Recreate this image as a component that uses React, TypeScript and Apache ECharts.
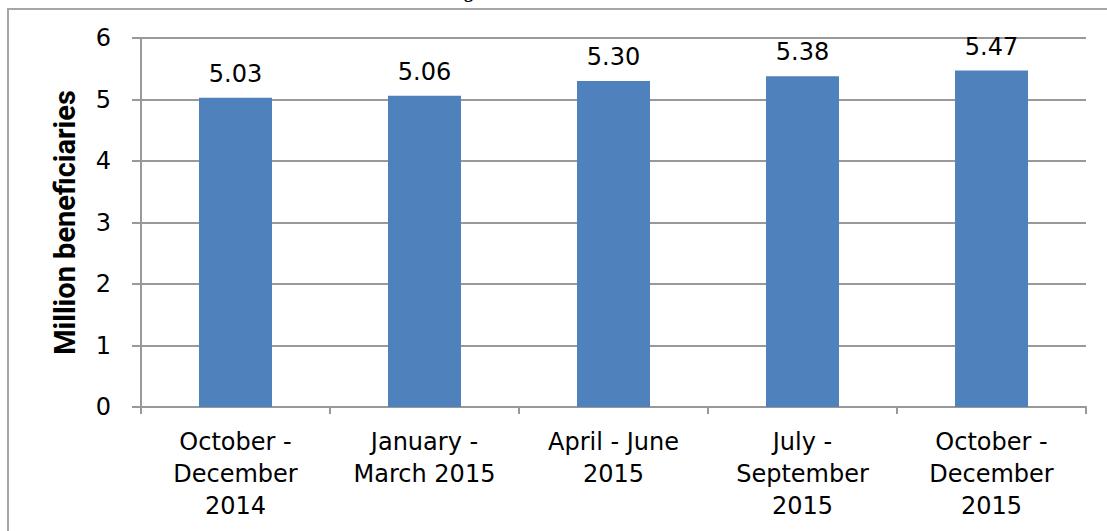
import React, { useEffect, useRef } from "react";
import * as echarts from "echarts";

const categories = [
  "October -\nDecember\n2014",
  "January -\nMarch 2015",
  "April - June\n2015",
  "July -\nSeptember\n2015",
  "October -\nDecember\n2015",
];
const values = [5.03, 5.06, 5.3, 5.38, 5.47];
const yAxisTitle = "Million beneficiaries";

export default function App() {
  const ref = useRef<HTMLDivElement>(null);
  useEffect(() => {
    const chart = echarts.init(ref.current!, undefined, { renderer: "svg" });
    const font = "'DejaVu Sans', sans-serif";
    chart.setOption({
      animation: false,
      backgroundColor: "#ffffff",
      grid: { left: 141, right: 21, top: 38, bottom: 124, containLabel: false },
      graphic: [
        {
          type: "rect",
          shape: { x: 8, y: 9, width: 1120, height: 540 },
          style: { fill: "none", stroke: "#a6a6a6", lineWidth: 2 },
          silent: true,
        },
        {
          type: "text",
          x: 464,
          y: -17,
          style: { text: "g", fontSize: 18, fontFamily: "'Liberation Serif', serif", fontWeight: "bold", fill: "#000" },
          silent: true,
        },
      ],
      xAxis: {
        type: "category",
        data: categories,
        axisLine: { lineStyle: { color: "#999999", width: 2 } },
        axisTick: { show: true, length: 7, lineStyle: { color: "#999999", width: 2 } },
        axisLabel: {
          color: "#000",
          fontSize: 24,
          fontFamily: font,
          lineHeight: 32,
          margin: 19,
          interval: 0,
        },
      },
      yAxis: {
        type: "value",
        min: 0,
        max: 6,
        interval: 1,
        name: yAxisTitle,
        nameLocation: "middle",
        nameGap: 62,
        nameTextStyle: {
          color: "#000",
          fontSize: 29,
          fontWeight: "bold",
          fontFamily: "Roboto, sans-serif",
        },
        axisLine: { show: true, lineStyle: { color: "#999999", width: 2 } },
        axisTick: { show: true, length: 9, lineStyle: { color: "#999999", width: 2 } },
        splitLine: { lineStyle: { color: "#999999", width: 2 } },
        axisLabel: { color: "#000", fontSize: 24, fontFamily: font, margin: 30 },
      },
      series: [
        {
          type: "bar",
          data: values,
          barWidth: 73,
          itemStyle: { color: "#4f81bd" },
          label: {
            show: true,
            position: "top",
            distance: 12,
            color: "#000",
            fontSize: 24,
            fontFamily: font,
            formatter: (p: any) => p.value.toFixed(2),
          },
        },
      ],
    });
    return () => chart.dispose();
  }, []);
  return <div ref={ref} style={{ width: 1107, height: 531, position: "absolute", left: 0, top: 0 }} />;
}
